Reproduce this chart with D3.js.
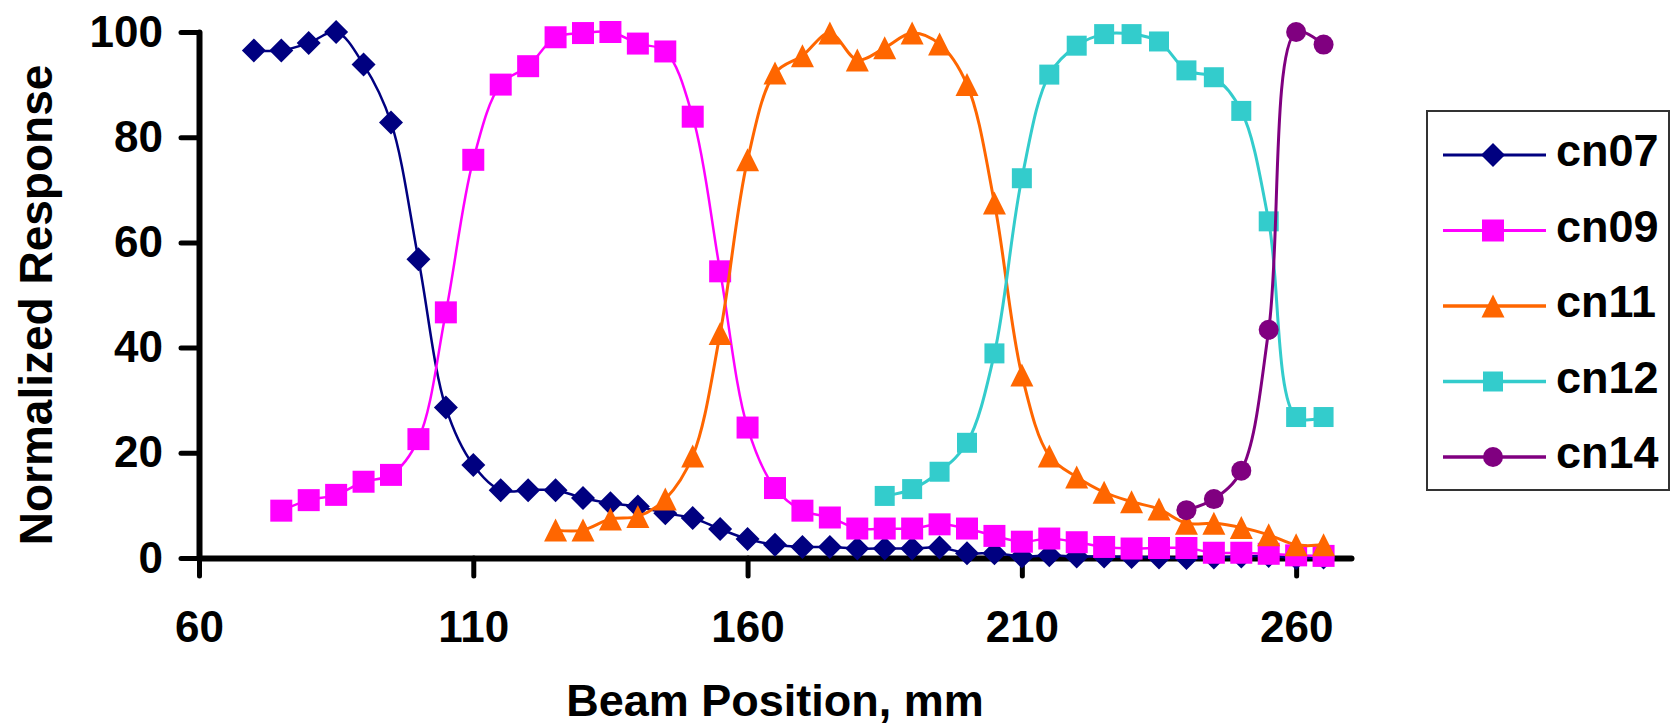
<!DOCTYPE html>
<html>
<head>
<meta charset="utf-8">
<script src="https://cdn.jsdelivr.net/npm/d3@7"></script>
<style>
  html, body { margin: 0; padding: 0; background: #fff; }
  svg { display: block; }
  text { font-family: "Liberation Sans", Arial, sans-serif; font-weight: bold; fill: #000; }
</style>
</head>
<body>
<script>
// ---------- data ----------
const xTicks = [60, 110, 160, 210, 260];
const yTicks = [0, 20, 40, 60, 80, 100];
const seriesNames = ["cn07", "cn09", "cn11", "cn12", "cn14"];

const cn07X = [70,75,80,85,90,95,100,105,110,115,120,125,130,135,140,145,150,155,160,165,170,175,180,185,190,195,200,205,210,215,220,225,230,235,240,245,250,255,260,265];
const cn07Y = [96.5,96.5,97.9,100,93.8,82.8,56.8,28.6,17.7,12.9,12.9,12.9,11.4,10.4,9.8,8.5,7.6,5.5,3.6,2.5,2.1,2.1,1.8,1.8,1.8,2.0,0.9,0.9,0.3,0.5,0.3,0.3,0.2,0.1,0,0.1,0.3,0.4,0,0.1];

const cn09X = [75,80,85,90,95,100,105,110,115,120,125,130,135,140,145,150,155,160,165,170,175,180,185,190,195,200,205,210,215,220,225,230,235,240,245,250,255,260,265];
const cn09Y = [9.0,11.0,12.0,14.5,15.8,22.6,46.7,75.7,90.0,93.5,99.0,99.8,100,97.8,96.3,83.9,54.5,24.8,13.3,9.0,7.7,5.6,5.6,5.6,6.4,5.6,4.2,3.1,3.7,3.0,2.1,1.8,1.9,1.9,1.0,1.0,0.8,0.5,0.4];

const cn11X = [125,130,135,140,145,150,155,160,165,170,175,180,185,190,195,200,205,210,215,220,225,230,235,240,245,250,255,260,265];
const cn11Y = [5.3,5.3,7.4,7.9,11.2,19.4,42.7,75.7,92.2,95.5,99.8,94.7,97.0,99.8,97.7,90.0,67.5,34.8,19.4,15.4,12.5,10.7,9.3,6.6,6.6,5.8,4.4,2.5,2.5];

const cn12X = [185,190,195,200,205,210,215,220,225,230,235,240,245,250,255,260,265];
const cn12Y = [11.8,13.1,16.4,21.9,38.9,72.2,91.9,97.4,99.6,99.6,98.2,92.7,91.4,85.0,64.0,26.8,26.8];

const cn14X = [240,245,250,255,260,265];
const cn14Y = [9.1,11.2,16.6,43.4,100,97.6];

// ---------- setup ----------
const W = 1671, H = 728;
const colors = ["#000080", "#FF00FF", "#FF6600", "#33CCCC", "#800080"];
const markerKinds = ["diamond", "square", "triangle", "square", "circle"];
const markerSizes = [24, 22, 23, 20, 20];
const lineWidths = [2.5, 2.5, 3, 3, 3];

const series = [
  {name: seriesNames[0], xs: cn07X, ys: cn07Y},
  {name: seriesNames[1], xs: cn09X, ys: cn09Y},
  {name: seriesNames[2], xs: cn11X, ys: cn11Y},
  {name: seriesNames[3], xs: cn12X, ys: cn12Y},
  {name: seriesNames[4], xs: cn14X, ys: cn14Y}
].map((s, i) => ({...s, i, pts: s.xs.map((xv, k) => [xv, s.ys[k]])}));

const svg = d3.select("body").append("svg").attr("width", W).attr("height", H);

const x = d3.scaleLinear().domain([60, 270]).range([199, 1351]);
const y = d3.scaleLinear().domain([0, 100]).range([558, 32]);

// marker shapes (Excel-like: bounding-box centred)
function markerType(kind, d) {
  return {
    draw(ctx) {
      const h = d / 2;
      if (kind === "diamond") {
        ctx.moveTo(0, -h); ctx.lineTo(h, 0); ctx.lineTo(0, h); ctx.lineTo(-h, 0); ctx.closePath();
      } else if (kind === "square") {
        ctx.rect(-h, -h, d, d);
      } else if (kind === "triangle") {
        ctx.moveTo(0, -h); ctx.lineTo(h, h); ctx.lineTo(-h, h); ctx.closePath();
      } else {
        ctx.moveTo(h, 0); ctx.arc(0, 0, h, 0, 2 * Math.PI);
      }
    }
  };
}

// ---------- axes ----------
const yAxis = d3.axisLeft(y).tickValues(yTicks).tickSize(18).tickSizeOuter(0).tickPadding(18).tickFormat(d3.format("d"));
const xAxis = d3.axisBottom(x).tickValues(xTicks).tickSize(18).tickSizeOuter(0).tickPadding(35).tickFormat(d3.format("d"));

const gy = svg.append("g").attr("transform", `translate(${x(60)},0)`).call(yAxis);
const gx = svg.append("g").attr("transform", `translate(0,${y(0)})`).call(xAxis);

[gx, gy].forEach(g => {
  g.select(".domain").attr("stroke", "#000").attr("stroke-width", 6).attr("stroke-linecap", "round");
  g.selectAll(".tick line").attr("stroke", "#000").attr("stroke-width", 5).attr("stroke-linecap", "round");
  g.selectAll(".tick text").attr("font-size", 44).attr("font-family", "'Liberation Sans', Arial, sans-serif").attr("font-weight", "bold").attr("fill", "#000");
});

// axis titles
svg.append("text")
  .attr("x", (x.range()[0] + x.range()[1]) / 2)
  .attr("y", 716)
  .attr("text-anchor", "middle")
  .attr("font-size", 45)
  .text("Beam Position, mm");

svg.append("text")
  .attr("transform", `translate(52,${(y(0) + y(100)) / 2 + 10}) rotate(-90)`)
  .attr("text-anchor", "middle")
  .attr("font-size", 46)
  .text("Normalized Response");

// ---------- series ----------
const line = d3.line().x(d => x(d[0])).y(d => y(d[1])).curve(d3.curveCatmullRom.alpha(0.5));

series.forEach(s => {
  const g = svg.append("g");
  g.append("path")
    .attr("d", line(s.pts))
    .attr("fill", "none")
    .attr("stroke", colors[s.i])
    .attr("stroke-width", lineWidths[s.i]);
  g.selectAll("path.m").data(s.pts).join("path")
    .attr("class", "m")
    .attr("transform", d => `translate(${x(d[0])},${y(d[1])})`)
    .attr("d", d3.symbol().type(markerType(markerKinds[s.i], markerSizes[s.i])))
    .attr("fill", colors[s.i]);
});

// ---------- legend ----------
const legend = svg.append("g");
legend.append("rect")
  .attr("x", 1427).attr("y", 111).attr("width", 242).attr("height", 379)
  .attr("fill", "#fff").attr("stroke", "#333").attr("stroke-width", 2);

const legendY = d3.scalePoint().domain(seriesNames).range([155, 457]);
series.forEach(s => {
  const ly = legendY(s.name);
  legend.append("line")
    .attr("x1", 1443).attr("x2", 1546).attr("y1", ly).attr("y2", ly)
    .attr("stroke", colors[s.i]).attr("stroke-width", lineWidths[s.i] + 0.5);
  legend.append("path")
    .attr("transform", `translate(1493,${ly})`)
    .attr("d", d3.symbol().type(markerType(markerKinds[s.i], markerSizes[s.i]))())
    .attr("fill", colors[s.i]);
  legend.append("text")
    .attr("x", 1556).attr("y", ly + 11)
    .attr("font-size", 45)
    .text(s.name);
});
</script>
</body>
</html>
